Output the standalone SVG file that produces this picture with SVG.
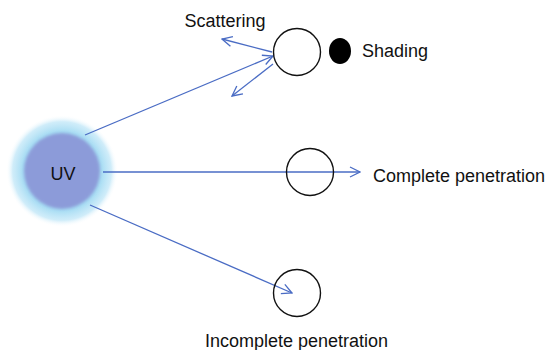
<svg xmlns="http://www.w3.org/2000/svg" width="549" height="350" viewBox="0 0 549 350">
  <style>
    .lbl { font-family: "Liberation Sans", Arial, sans-serif; font-size: 18px; fill: #111; }
    .ray { stroke: #4a6cc4; stroke-width: 1.3; fill: none; marker-end: url(#open); }
    .particle { fill: none; stroke: #111; stroke-width: 1.4; }
  </style>
  <defs>
    <marker id="open" viewBox="0 0 12 12" refX="11" refY="6" markerWidth="12" markerHeight="12" markerUnits="userSpaceOnUse" orient="auto">
      <path d="M1,1 L11,6 L1,11" fill="none" stroke="#4a6cc4" stroke-width="1.3"/>
    </marker>
    <radialGradient id="glow" cx="0.5" cy="0.5" r="0.5">
      <stop offset="0" stop-color="#9fd8f2"/>
      <stop offset="0.7" stop-color="#a6dcf3"/>
      <stop offset="0.88" stop-color="#c4e8f8" stop-opacity="0.8"/>
      <stop offset="1" stop-color="#ffffff" stop-opacity="0"/>
    </radialGradient>
    <filter id="soft" x="-20%" y="-20%" width="140%" height="140%">
      <feGaussianBlur stdDeviation="1.5"/>
    </filter>
  </defs>

  <!-- light source with halo -->
  <g id="uv-source">
    <circle cx="62" cy="171" r="56" fill="url(#glow)"/>
    <circle cx="62" cy="171" r="38" fill="#8c9bd9" filter="url(#soft)"/>
    <text class="lbl" x="63" y="180" text-anchor="middle">UV</text>
  </g>

  <!-- rays -->
  <g id="connectors">
    <line class="ray" x1="85" y1="135" x2="273" y2="56"/>
    <line class="ray" x1="272" y1="52" x2="222" y2="39"/>
    <line class="ray" x1="273" y1="64" x2="232" y2="96"/>
    <line class="ray" x1="103" y1="172" x2="360" y2="172"/>
    <line class="ray" x1="90" y1="205" x2="292" y2="293"/>
  </g>

  <g id="scattering-particle">
    <circle class="particle" cx="297" cy="52" r="23.5" style="fill:#fff"/>
    <text class="lbl" x="225" y="27" text-anchor="middle">Scattering</text>
  </g>

  <g id="shading">
    <ellipse cx="340" cy="51" rx="11" ry="13" fill="#000"/>
    <text class="lbl" x="362" y="57">Shading</text>
  </g>

  <g id="complete-particle">
    <circle class="particle" cx="310" cy="172" r="23.5"/>
    <text class="lbl" x="373" y="182">Complete penetration</text>
  </g>

  <g id="incomplete-particle">
    <circle class="particle" cx="297" cy="293" r="23.5"/>
    <text class="lbl" x="205" y="347">Incomplete penetration</text>
  </g>
</svg>
